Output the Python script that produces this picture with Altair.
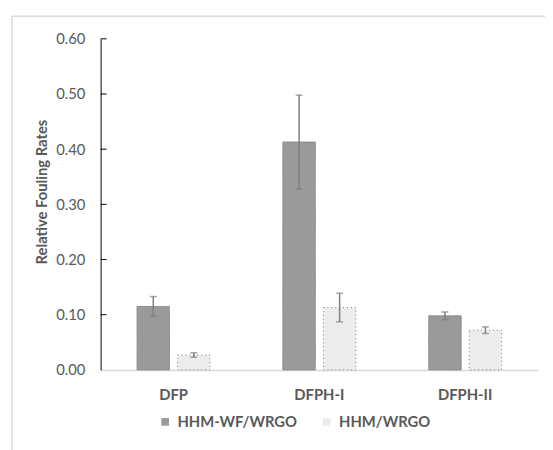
import altair as alt
import pandas as pd

categories = ["DFP", "DFPH-I", "DFPH-II"]
series = ["HHM-WF/WRGO", "HHM/WRGO"]
hhm_wf = [0.115, 0.413, 0.098]
hhm_wf_err = [0.018, 0.085, 0.007]
hhm = [0.027, 0.113, 0.072]
hhm_err = [0.004, 0.026, 0.006]
y_ticks = [0.0, 0.1, 0.2, 0.3, 0.4, 0.5, 0.6]

rows = []
for i, c in enumerate(categories):
    for s, vals, errs in ((series[0], hhm_wf, hhm_wf_err), (series[1], hhm, hhm_err)):
        rows.append({"category": c, "series": s, "value": vals[i],
                     "lo": vals[i] - errs[i], "hi": vals[i] + errs[i]})
df = pd.DataFrame(rows)

FONT = "Lato"
GREY = "#595959"

x_enc = alt.X("category:N", sort=categories,
              scale=alt.Scale(paddingInner=0.5, paddingOuter=0.25),
              axis=alt.Axis(title=None, labelAngle=0, ticks=False, tickSize=0,
                            domainColor="#d9d9d9", domainWidth=1.5, labelPadding=18,
                            labelFontSize=15, labelFontWeight="bold", labelColor=GREY,
                            labelFont=FONT))
xoff = alt.XOffset("series:N", sort=series, scale=alt.Scale(paddingInner=0.2))

base = alt.Chart(df).encode(x=x_enc, xOffset=xoff)

y_scale = alt.Scale(domain=[0, 0.6], nice=False, zero=True)

bars = base.mark_bar(strokeWidth=1).encode(
    y=alt.Y("value:Q", scale=y_scale,
            axis=alt.Axis(values=y_ticks, format=".2f", grid=False, ticks=False, tickSize=0,
                          domainColor="black", domainWidth=1, labelPadding=16,
                          labelFontSize=15, labelColor=GREY, labelFont=FONT,
                          title="Relative Fouling Rates", titleFontSize=15,
                          titleFontWeight="bold", titleColor=GREY, titleFont=FONT,
                          titleX=-60, titleY=155, titleAngle=270,
                          titleAlign="center", titleBaseline="middle")),
    fill=alt.Fill("series:N", sort=series,
                  scale=alt.Scale(domain=series, range=["#9a9a9a", "#ececec"]),
                  legend=alt.Legend(title=None, orient="none", direction="horizontal",
                                    legendX=58, legendY=381, symbolType="square",
                                    symbolSize=60, symbolStrokeWidth=0,
                                    labelFontSize=15, labelFontWeight="bold",
                                    labelColor=GREY, labelFont=FONT, columnPadding=22,
                                    labelOffset=5)),
    stroke=alt.Stroke("series:N", sort=series,
                      scale=alt.Scale(domain=series, range=["#8a8a8a", "#777777"]),
                      legend=None),
    strokeDash=alt.StrokeDash("series:N", sort=series,
                              scale=alt.Scale(domain=series, range=[[1, 0], [1, 3]]),
                              legend=None),
)

err = base.mark_rule(color="#7f7f7f", strokeWidth=1.5).encode(
    y=alt.Y("lo:Q", scale=y_scale), y2="hi:Q")
cap_hi = base.mark_tick(orient="horizontal", size=7, thickness=1.5, color="#7f7f7f").encode(
    y=alt.Y("hi:Q", scale=y_scale))
cap_lo = base.mark_tick(orient="horizontal", size=7, thickness=1.5, color="#7f7f7f").encode(
    y=alt.Y("lo:Q", scale=y_scale))

ticks = alt.Chart(pd.DataFrame({"t": y_ticks[1:]})).mark_rule(color="black", strokeWidth=1).encode(
    y=alt.Y("t:Q", scale=y_scale), x=alt.value(0), x2=alt.value(6))

one = pd.DataFrame({"a": [0]})
frame_top = alt.Chart(one).mark_rule(color="#d9d9d9", strokeWidth=1.5).encode(
    x=alt.value(-90), x2=alt.value(451), y=alt.value(-23))
frame_left = alt.Chart(one).mark_rule(color="#d9d9d9", strokeWidth=1.5).encode(
    x=alt.value(-90), y=alt.value(-23), y2=alt.value(420))

chart = alt.layer(frame_top, frame_left, bars, err, cap_hi, cap_lo, ticks).properties(
    width=444, height=336,
    autosize=alt.AutoSizeParams(type="none"),
    padding={"left": 94, "top": 28, "right": 7, "bottom": 78},
).configure_view(stroke=None)

chart.save("out.html", embed_options={"renderer": "svg", "actions": False})
